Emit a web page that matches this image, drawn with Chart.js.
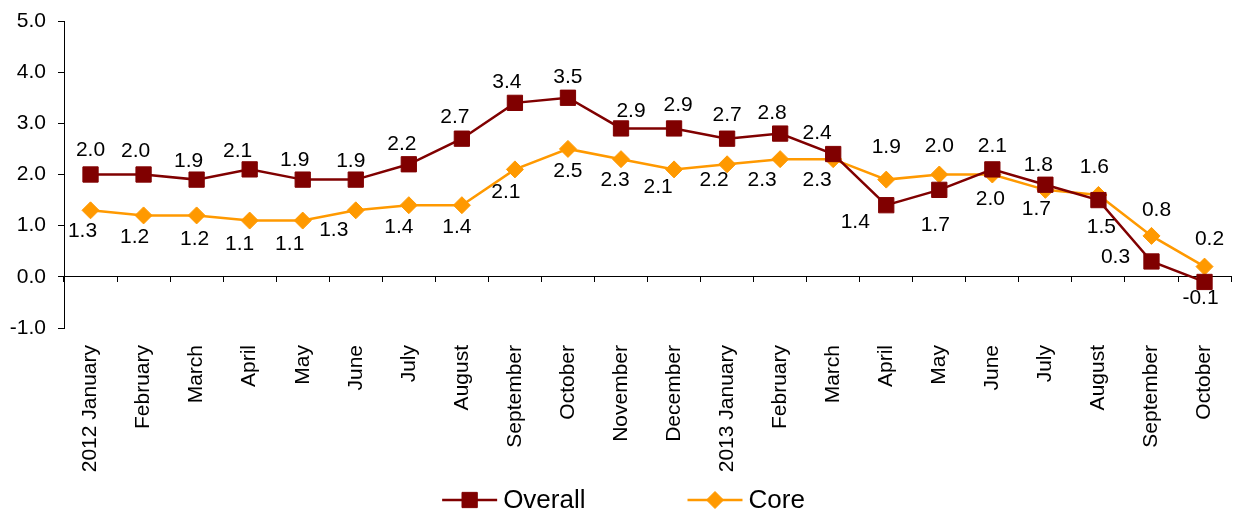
<!DOCTYPE html>
<html lang="en">
<head>
<meta charset="UTF-8">
<title>Overall and Core</title>
<style>
    body {
        margin: 0;
        background-color: #ffffff;
    }
    #wrap {
        width: 1247px;
        height: 516px;
    }
</style>
<script src="https://cdn.jsdelivr.net/npm/chart.js"></script>
</head>
<body>
<div id="wrap"><canvas id="inflationChart"></canvas></div>
<script>
    var months = ['2012 January', 'February', 'March', 'April', 'May', 'June', 'July', 'August',
        'September', 'October', 'November', 'December', '2013 January', 'February', 'March',
        'April', 'May', 'June', 'July', 'August', 'September', 'October'];
    var overall = [2.0, 2.0, 1.9, 2.1, 1.9, 1.9, 2.2, 2.7, 3.4, 3.5, 2.9, 2.9, 2.7, 2.8, 2.4,
        1.4, 1.7, 2.1, 1.8, 1.5, 0.3, -0.1];
    var core = [1.3, 1.2, 1.2, 1.1, 1.1, 1.3, 1.4, 1.4, 2.1, 2.5, 2.3, 2.1, 2.2, 2.3, 2.3,
        1.9, 2.0, 2.0, 1.7, 1.6, 0.8, 0.2];
    var yTicks = [-1, 0, 1, 2, 3, 4, 5];

    // where each value label sits relative to its point (pixels)
    var overallLabelDx = [0, -8, -8, -12, -8, -5, -7, -7, -8, 0, 10, 4, 0, -8, -16, -31, -4, 0, -7, 3, -36, -4];
    var overallLabelDy = [-24, -23, -18, -18, -19, -18, -20, -21, -21, -21, -17, -23, -23, -20, -21, 17, 35, -23, -20, 27, -4, 16];
    var coreLabelDx = [-8, -9, -2, -10, -13, -22, -10, -5, -9, 0, -6, -16, -13, -18, -16, 0, 0, -2, -9, -4, 5, 5];
    var coreLabelDy = [21, 22, 24, 24, 24, 20, 22, 22, 23, 22, 21, 18, 16, 21, 21, -32, -28, 25, 19, -28, -26, -27];

    var FONT = '"Liberation Sans", Arial, sans-serif';
    var MAROON = '#800000';
    var ORANGE = '#FF9900';

    var valueLabels = {
        id: 'valueLabels',
        afterDatasetsDraw: function(chart) {
            var ctx = chart.ctx;
            ctx.save();
            ctx.font = '21px ' + FONT;
            ctx.fillStyle = '#000';
            ctx.textAlign = 'center';
            ctx.textBaseline = 'middle';
            chart.data.datasets.forEach(function(ds, di) {
                var meta = chart.getDatasetMeta(di);
                meta.data.forEach(function(pt, i) {
                    ctx.fillText(ds.data[i].toFixed(1), pt.x + ds.labelDx[i], pt.y + ds.labelDy[i]);
                });
            });
            ctx.restore();
        }
    };

    // legend: short line with the series marker, then the name
    var lineLegend = {
        id: 'lineLegend',
        afterDraw: function(chart) {
            var ctx = chart.ctx;
            var lineLen = 55, textGap = 6, itemGap = 102, y = 500;
            ctx.save();
            ctx.font = '26px ' + FONT;
            var sets = chart.data.datasets;
            var widths = sets.map(function(ds) {
                return lineLen + textGap + ctx.measureText(ds.label).width;
            });
            var total = widths.reduce(function(a, b) { return a + b; }, 0) + itemGap * (sets.length - 1);
            var x = (chart.width - total) / 2;
            sets.forEach(function(ds, i) {
                ctx.strokeStyle = ds.borderColor;
                ctx.lineWidth = ds.borderWidth;
                ctx.beginPath();
                ctx.moveTo(x, y);
                ctx.lineTo(x + lineLen, y);
                ctx.stroke();
                ctx.fillStyle = ds.pointBackgroundColor;
                ctx.strokeStyle = ds.pointBorderColor;
                ctx.lineWidth = 1;
                Chart.helpers.drawPoint(ctx, {
                    pointStyle: ds.pointStyle,
                    radius: ds.pointRadius,
                    rotation: 0,
                    borderWidth: 1
                }, x + lineLen / 2, y);
                ctx.fillStyle = '#000';
                ctx.textAlign = 'left';
                ctx.textBaseline = 'middle';
                ctx.fillText(ds.label, x + lineLen + textGap, y + 1);
                x += widths[i] + itemGap;
            });
            ctx.restore();
        }
    };

    var ctx = document.getElementById('inflationChart').getContext('2d');
    new Chart(ctx, {
        type: 'line',
        data: {
            labels: months,
            datasets: [{
                label: 'Overall',
                data: overall,
                borderColor: MAROON,
                borderWidth: 2.5,
                pointStyle: 'rect',
                pointRadius: 10.8,
                pointBackgroundColor: MAROON,
                pointBorderColor: MAROON,
                pointBorderWidth: 1,
                labelDx: overallLabelDx,
                labelDy: overallLabelDy
            }, {
                label: 'Core',
                data: core,
                borderColor: ORANGE,
                borderWidth: 2.5,
                pointStyle: 'rectRot',
                pointRadius: 8.5,
                pointBackgroundColor: ORANGE,
                pointBorderColor: ORANGE,
                pointBorderWidth: 1,
                labelDx: coreLabelDx,
                labelDy: coreLabelDy
            }]
        },
        options: {
            responsive: true,
            maintainAspectRatio: false,
            animation: false,
            layout: {
                padding: { top: 21, right: 2, bottom: 43, left: 0 }
            },
            plugins: {
                legend: { display: false },
                tooltip: { enabled: false }
            },
            elements: {
                line: { tension: 0 }
            },
            scales: {
                x: {
                    type: 'category',
                    offset: true,
                    afterFit: function(scale) { scale.height = 145; },
                    grid: { display: false, drawTicks: false },
                    border: { display: false },
                    ticks: {
                        autoSkip: false,
                        maxRotation: 90,
                        minRotation: 90,
                        padding: 17,
                        color: '#000',
                        font: { family: FONT, size: 21 }
                    }
                },
                // horizontal axis line drawn through zero, ticks between months
                x0: {
                    type: 'category',
                    position: { y: 0 },
                    offset: true,
                    grid: {
                        offset: true,
                        drawOnChartArea: false,
                        drawTicks: true,
                        tickLength: 5,
                        color: '#000'
                    },
                    border: { color: '#000', width: 1 },
                    ticks: { display: false }
                },
                y: {
                    min: yTicks[0],
                    max: yTicks[yTicks.length - 1],
                    afterFit: function(scale) {
                        scale.width = 64;
                        scale.paddingTop = 0;
                        scale.paddingBottom = 0;
                    },
                    grid: {
                        drawOnChartArea: false,
                        drawTicks: true,
                        tickLength: 6,
                        color: '#000'
                    },
                    border: { color: '#000', width: 1 },
                    ticks: {
                        stepSize: 1,
                        padding: 12,
                        color: '#000',
                        font: { family: FONT, size: 21 },
                        callback: function(v) { return v.toFixed(1); }
                    }
                }
            }
        },
        plugins: [valueLabels, lineLegend]
    });
</script>
</body>
</html>
